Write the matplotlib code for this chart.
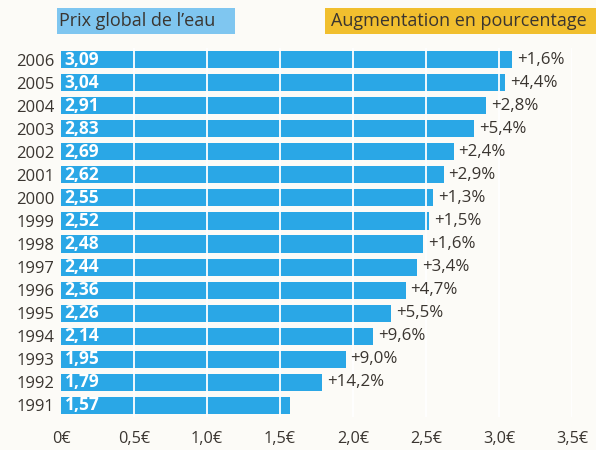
import matplotlib.pyplot as plt
from matplotlib.patches import Rectangle

years = [2006, 2005, 2004, 2003, 2002, 2001, 2000, 1999, 1998, 1997, 1996, 1995, 1994, 1993, 1992, 1991]
prices = [3.09, 3.04, 2.91, 2.83, 2.69, 2.62, 2.55, 2.52, 2.48, 2.44, 2.36, 2.26, 2.14, 1.95, 1.79, 1.57]
increases = [1.6, 4.4, 2.8, 5.4, 2.4, 2.9, 1.3, 1.5, 1.6, 3.4, 4.7, 5.5, 9.6, 9.0, 14.2, None]
x_ticks = [0, 0.5, 1.0, 1.5, 2.0, 2.5, 3.0, 3.5]

plt.rcParams['font.family'] = ['Open Sans', 'DejaVu Sans']

bar_blue = '#2aa7e6'
paper = '#fcfbf7'
text_col = '#3a3530'


def fr(v, nd):
    return f'{v:.{nd}f}'.replace('.', ',')


W, H = 596, 450
fig = plt.figure(figsize=(W / 100, H / 100), dpi=100, facecolor=paper)
# axes placed in pixel coordinates: x 0 -> 61px, 3.5 -> 572px
ax = fig.add_axes([61 / W, 1 - 417 / H, 511 / W, (417 - 48) / H])
ax.set_facecolor(paper)

pos = list(range(len(years) - 1, -1, -1))
ax.barh(pos, prices, height=0.74, color=bar_blue, zorder=2)

# white separators at every 0.5
for t in x_ticks[1:]:
    ax.axvline(t, color='white', lw=1.3, zorder=3)

for p, v, inc in zip(pos, prices, increases):
    ax.text(0.025, p, fr(v, 2), color='white', fontweight='bold', fontsize=12.5,
            va='center', ha='left', zorder=4)
    if inc is not None:
        ax.annotate(f'+{fr(inc, 1)}%', (v, p), xytext=(3.5, 0), textcoords='offset points',
                    va='center', ha='left', fontsize=12.2, color=text_col, annotation_clip=False)

ax.set_xlim(0, 3.5)
ax.set_ylim(-0.5, len(years) - 0.5)
ax.set_yticks(pos)
ax.set_yticklabels([str(y) for y in years], fontsize=12, color=text_col)
ax.set_xticks(x_ticks)
ax.set_xticklabels([('0' if t == 0 else fr(t, 1)) + '€' for t in x_ticks], fontsize=11.7, color=text_col)
ax.tick_params(length=0)
ax.tick_params(axis='y', pad=5)
ax.tick_params(axis='x', pad=10)
for s in ax.spines.values():
    s.set_visible(False)

# header boxes (pixel coordinates)
fig.add_artist(Rectangle((57 / W, 1 - 34 / H), 178 / W, 26 / H, transform=fig.transFigure,
                         fc='#7fc6f0', ec='none'))
fig.add_artist(Rectangle((325 / W, 1 - 34 / H), 271 / W, 26 / H, transform=fig.transFigure,
                         fc='#f1bf2e', ec='none'))
fig.text(59 / W, 1 - 21 / H, "Prix global de l’eau", fontsize=13, color=text_col, va='center', ha='left')
fig.text(331 / W, 1 - 21 / H, "Augmentation en pourcentage", fontsize=13, color=text_col, va='center', ha='left')

fig.savefig('out.png', dpi=100, facecolor=paper)
